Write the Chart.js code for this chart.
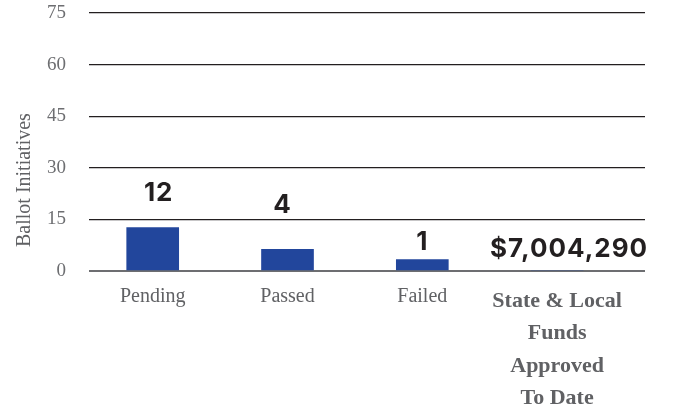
<!DOCTYPE html>
<html>
<head>
<meta charset="utf-8">
<script src="https://cdn.jsdelivr.net/npm/chart.js@4/dist/chart.umd.min.js"></script>
<style>
  body { margin: 0; background: #fff; }
</style>
</head>
<body>
<canvas id="ballotChart" width="673" height="412"></canvas>
<script>
// data
const categories = ['Pending', 'Passed', 'Failed', ['State & Local', 'Funds', 'Approved', 'To Date']];
const barValues = [12.6, 6.3, 3.3, 0];
const valueLabels = ['12', '4', '1', '$7,004,290'];
const yTicks = [0, 15, 30, 45, 60, 75];
const yTitle = 'Ballot Initiatives';

const serif = '"Liberation Serif", "Times New Roman", serif';
const grayText = '#606164';

// value text above each bar (offsets are per label, like the original layout)
const valueLabelPlugin = {
    id: 'valueLabels',
    afterDatasetsDraw(chart, args, opts) {
        const ctx = chart.ctx;
        const meta = chart.getDatasetMeta(0);
        ctx.save();
        ctx.font = opts.font;
        ctx.fillStyle = opts.color;
        ctx.textAlign = 'center';
        ctx.textBaseline = 'middle';
        if ('letterSpacing' in ctx) ctx.letterSpacing = opts.letterSpacing;
        meta.data.forEach((bar, i) => {
            ctx.fillText(valueLabels[i], bar.x + opts.dx[i], bar.y - opts.dy[i]);
        });
        ctx.restore();
    }
};

// y title sits low on the axis in the original, so draw it ourselves
const yTitlePlugin = {
    id: 'yTitle',
    afterDraw(chart) {
        const ctx = chart.ctx;
        const area = chart.chartArea;
        ctx.save();
        ctx.translate(area.left - 64, area.bottom - 24);
        ctx.rotate(-Math.PI / 2);
        ctx.font = '20px ' + serif;
        ctx.fillStyle = grayText;
        ctx.textAlign = 'left';
        ctx.textBaseline = 'middle';
        ctx.fillText(yTitle, 0, 0);
        ctx.restore();
    }
};

const ctx = document.getElementById('ballotChart').getContext('2d');
const myChart = new Chart(ctx, {
    type: 'bar',
    data: {
        datasets: [{
            data: barValues.map((v, i) => ({ x: i, y: v })),
            backgroundColor: '#22469c',
            borderWidth: 0,
            barThickness: 52
        }]
    },
    options: {
        responsive: false,
        animation: false,
        layout: { padding: { top: 13, right: 28, bottom: 0, left: 0 } },
        plugins: {
            legend: { display: false },
            tooltip: { enabled: false },
            valueLabels: {
                font: 'bold 26px Inter, "DejaVu Sans", sans-serif',
                color: '#231f20',
                letterSpacing: '1px',
                dx: [6, -5, 0, 12],
                dy: [34, 44, 17, 22]
            }
        },
        scales: {
            x: {
                type: 'linear',
                offset: false,
                min: -0.4726,
                max: 3.652,
                afterBuildTicks: axis => {
                    axis.ticks = categories.map((c, i) => ({ value: i }));
                },
                afterFit: scale => {
                    scale.height = 141;
                    scale.paddingLeft = 0;
                    scale.paddingRight = 0;
                },
                grid: { display: false, drawTicks: false },
                border: { display: false },
                ticks: {
                    autoSkip: false,
                    minRotation: 0,
                    maxRotation: 0,
                    padding: 14,
                    color: grayText,
                    font: c => c.index === 3
                        ? { family: serif, size: 22, weight: 'bold', lineHeight: 1.47 }
                        : { family: serif, size: 20, lineHeight: 1.2 },
                    callback: (value, index) => categories[index]
                }
            },
            y: {
                min: 0,
                max: 75,
                afterBuildTicks: axis => {
                    axis.ticks = yTicks.map(v => ({ value: v }));
                },
                afterFit: scale => {
                    scale.width = 89;
                    scale.paddingTop = 0;
                    scale.paddingBottom = 0;
                },
                border: { display: false },
                grid: {
                    drawTicks: false,
                    color: c => c.tick.value === 0 ? '#6d6e71' : '#231f20',
                    lineWidth: c => c.tick.value === 0 ? 2 : 1.3
                },
                ticks: {
                    padding: 23,
                    color: '#6d6e71',
                    font: { family: serif, size: 19 }
                }
            }
        }
    },
    plugins: [valueLabelPlugin, yTitlePlugin]
});
</script>
</body>
</html>
